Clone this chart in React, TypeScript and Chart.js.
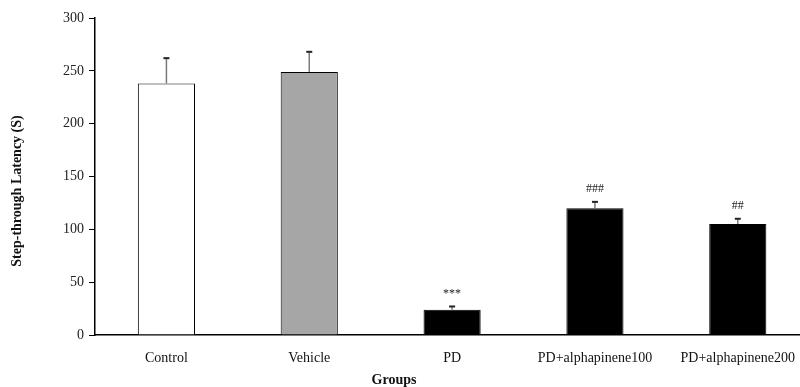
import React, { useEffect, useRef } from "react";
import { Chart, registerables } from "chart.js";

Chart.register(...registerables);

const categories = ["Control", "Vehicle", "PD", "PD+alphapinene100", "PD+alphapinene200"];
const means = [238, 249, 24, 120, 105];
const sem = [24, 19, 3, 6, 5];
const significance = ["", "", "***", "###", "##"];
const barColors = ["#ffffff", "#a6a6a6", "#000000", "#000000", "#000000"];
const yMin = 0;
const yMax = 300;
const yStep = 50;
const yTitle = "Step-through Latency (S)";
const xTitle = "Groups";

const FONT = "'Liberation Serif', 'Times New Roman', serif";

const overlayPlugin = {
  id: "overlay",
  afterDatasetsDraw(chart: any) {
    const ctx = chart.ctx;
    const meta = chart.getDatasetMeta(0);
    const y = chart.scales.y;
    ctx.save();
    meta.data.forEach((bar: any, i: number) => {
      const top = y.getPixelForValue(means[i]);
      const errTop = y.getPixelForValue(means[i] + sem[i]);
      ctx.strokeStyle = "#7a7a7a";
      ctx.lineWidth = 1.5;
      ctx.beginPath();
      ctx.moveTo(bar.x, top);
      ctx.lineTo(bar.x, errTop);
      ctx.stroke();
      ctx.strokeStyle = "#222";
      ctx.lineWidth = 2;
      ctx.beginPath();
      ctx.moveTo(bar.x - 3, errTop);
      ctx.lineTo(bar.x + 3, errTop);
      ctx.stroke();
      if (significance[i]) {
        ctx.fillStyle = "#222";
        ctx.font = "12px " + FONT;
        ctx.textAlign = "center";
        ctx.textBaseline = "middle";
        ctx.fillText(significance[i], bar.x, errTop - 13);
      }
    });
    // axis titles
    ctx.fillStyle = "#111";
    ctx.font = "bold 14px " + FONT;
    ctx.textAlign = "center";
    ctx.textBaseline = "middle";
    ctx.fillText(xTitle, 394, 380);
    ctx.translate(17, 191);
    ctx.rotate(-Math.PI / 2);
    ctx.fillText(yTitle, 0, 0);
    ctx.restore();
  },
};

export default function App() {
  const ref = useRef<HTMLCanvasElement>(null);
  useEffect(() => {
    if (!ref.current) return;
    const chart = new Chart(ref.current, {
      type: "bar",
      data: {
        labels: categories,
        datasets: [
          {
            data: means,
            backgroundColor: barColors,
            borderColor: "#000",
            borderWidth: 1,
            barPercentage: 0.4,
            categoryPercentage: 1,
          },
        ],
      },
      options: {
        responsive: false,
        animation: false,
        devicePixelRatio: 1,
        layout: { padding: { top: 18, left: 0, right: 0, bottom: 0 } },
        plugins: { legend: { display: false }, tooltip: { enabled: false } },
        scales: {
          x: {
            grid: { display: false, drawTicks: false },
            border: { display: true, color: "#000", width: 1.5 },
            ticks: { color: "#111", font: { family: FONT, size: 14 }, padding: 15, maxRotation: 0 },
            afterFit: (s: any) => {
              s.height = 52;
            },
          },
          y: {
            min: yMin,
            max: yMax,
            ticks: { stepSize: yStep, color: "#222", font: { family: FONT, size: 14 }, padding: 5 },
            grid: { drawOnChartArea: false, drawTicks: true, tickLength: 6, color: "#000" },
            border: { display: true, color: "#000", width: 1.5 },
            afterFit: (s: any) => {
              s.width = 95;
            },
          },
        },
      },
      plugins: [overlayPlugin],
    } as any);
    return () => chart.destroy();
  }, []);
  return (
    <div style={{ position: "fixed", left: 0, top: 0, width: 800, height: 387, overflow: "hidden", background: "#fff" }}>
      <canvas ref={ref} width={810} height={387} style={{ display: "block" }} />
    </div>
  );
}
